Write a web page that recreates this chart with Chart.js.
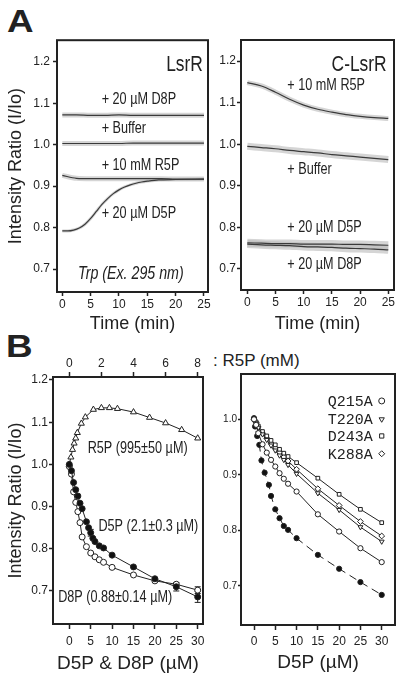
<!DOCTYPE html>
<html>
<head>
<meta charset="utf-8">
<script src="https://cdn.jsdelivr.net/npm/chart.js@4.4.1/dist/chart.umd.min.js"></script>
<style>
body{margin:0;background:#fff;width:403px;height:678px;position:relative;overflow:hidden;
  font-family:"Liberation Sans",Arial,sans-serif;color:#222}
canvas{position:absolute}
.panel{position:absolute;font-family:"Liberation Sans",Arial,sans-serif;font-weight:bold;font-size:32px;line-height:1;transform:scaleX(1.15);transform-origin:left top}
</style>
</head>
<body>
<div class="panel" style="left:7px;top:5px">A</div>
<div class="panel" style="left:6px;top:330px">B</div>
<div style="position:absolute;left:213px;top:352px;font-size:17px;line-height:1">: R5P (mM)</div>
<canvas id="aL" width="216" height="308" style="left:0;top:30px"></canvas>
<canvas id="aR" width="187" height="308" style="left:216px;top:30px"></canvas>
<canvas id="bL" width="212" height="338" style="left:0;top:340px"></canvas>
<canvas id="bR" width="191" height="338" style="left:212px;top:340px"></canvas>
<script>
// ---- panel A : fluorescence time courses (I/Io vs min)
const timeA = [0, 2.5, 5, 7.5, 10, 12.5, 15, 17.5, 20, 22.5, 25];
const timeD5P = [0, 1, 2, 3, 4, 5, 6, 7, 8, 9, 10, 11, 12, 13, 14, 15, 17, 20, 25];
const lsrrD8P = [1.072, 1.072, 1.071, 1.071, 1.072, 1.071, 1.071, 1.071, 1.071, 1.071, 1.071];
const lsrrBuffer = [1.003, 1.003, 1.003, 1.003, 1.003, 1.004, 1.004, 1.004, 1.004, 1.004, 1.004];
const lsrrR5P = [0.926, 0.919, 0.918, 0.918, 0.918, 0.918, 0.918, 0.918, 0.917, 0.917, 0.917];
const lsrrD5P = [0.792, 0.792, 0.794, 0.799, 0.808, 0.822, 0.839, 0.856, 0.870, 0.882, 0.891, 0.898, 0.903, 0.907, 0.910, 0.912, 0.915, 0.916, 0.917];
const clsrrR5P = [1.148, 1.140, 1.125, 1.108, 1.094, 1.084, 1.077, 1.071, 1.067, 1.064, 1.062];
const clsrrBuffer = [0.995, 0.992, 0.989, 0.985, 0.982, 0.979, 0.975, 0.972, 0.969, 0.966, 0.963];
const clsrrD5P = [0.763, 0.762, 0.761, 0.761, 0.760, 0.760, 0.760, 0.759, 0.759, 0.758, 0.757];
const clsrrD8P = [0.760, 0.758, 0.757, 0.756, 0.754, 0.753, 0.752, 0.750, 0.749, 0.748, 0.746];
const timeTicks = [0, 5, 10, 15, 20, 25];
const ratioTicksA = [0.7, 0.8, 0.9, 1.0, 1.1, 1.2];

// ---- panel B left : titrations
const r5pConc = [0, 0.1, 0.2, 0.3, 0.4, 0.5, 0.75, 1, 1.5, 2, 2.5, 3, 4, 5, 6, 7, 8]; // mM
const r5pRatio = [1.0, 1.017, 1.035, 1.05, 1.062, 1.075, 1.097, 1.112, 1.13, 1.134, 1.134, 1.132, 1.124, 1.111, 1.098, 1.082, 1.062];
const d5pConc = [0, 0.5, 1, 1.5, 2, 2.5, 3, 4, 4.5, 5, 5.5, 6, 7, 8, 10, 15, 20, 25, 30]; // uM
const d5pRatio = [1.0, 0.985, 0.957, 0.94, 0.925, 0.908, 0.895, 0.864, 0.85, 0.838, 0.825, 0.817, 0.807, 0.802, 0.785, 0.757, 0.729, 0.71, 0.686];
const d5pErr = [0, 0, 0, 0, 0, 0, 0, 0, 0, 0.008, 0, 0, 0, 0, 0, 0, 0, 0.01, 0.013];
const d8pConc = [0, 0.5, 1, 1.5, 2, 2.5, 3, 4, 5, 6, 7, 8, 10, 15, 20, 25, 30];
const d8pRatio = [0.995, 0.977, 0.935, 0.91, 0.888, 0.862, 0.828, 0.805, 0.79, 0.781, 0.774, 0.768, 0.756, 0.738, 0.724, 0.716, 0.702];
const d8pErr = [0, 0, 0, 0, 0, 0, 0, 0, 0, 0, 0, 0, 0, 0, 0, 0, 0.008];
const concTicks = [0, 5, 10, 15, 20, 25, 30];
const r5pTicks = [0, 2, 4, 6, 8];
const ratioTicksB = [0.7, 0.8, 0.9, 1.0, 1.1, 1.2];

// ---- panel B right : mutants titrated with D5P
const mutants = ['Q215A', 'T220A', 'D243A', 'K288A'];
const mutConc = [0, 0.5, 1, 2, 3, 4, 5, 6, 7, 8, 10, 15, 20, 25, 30];
const q215a = [1.0, 0.99, 0.975, 0.955, 0.94, 0.927, 0.915, 0.903, 0.893, 0.884, 0.870, 0.829, 0.798, 0.768, 0.743];
const t220a = [1.0, 0.993, 0.985, 0.973, 0.963, 0.953, 0.944, 0.935, 0.927, 0.918, 0.902, 0.867, 0.837, 0.806, 0.78];
const d243a = [1.0, 0.995, 0.988, 0.978, 0.97, 0.962, 0.954, 0.946, 0.939, 0.933, 0.922, 0.894, 0.865, 0.838, 0.814];
const k288a = [1.0, 0.994, 0.986, 0.975, 0.966, 0.957, 0.948, 0.94, 0.932, 0.925, 0.91, 0.875, 0.845, 0.816, 0.79];
const wtConc = [0, 0.25, 0.75, 1.25, 1.75, 2.5, 3.5, 4, 5, 6, 7, 8, 10, 15, 20, 25, 30];
const wtRatio = [1.002, 0.987, 0.97, 0.954, 0.926, 0.904, 0.882, 0.862, 0.838, 0.822, 0.808, 0.801, 0.786, 0.756, 0.731, 0.707, 0.684];
const ratioTicksC = [0.7, 0.8, 0.9, 1.0];

const FONT = '"Liberation Sans", Arial, sans-serif';
Chart.defaults.font.family = FONT;
Chart.defaults.color = '#222';

function pts(xs, ys){ return xs.map((x, i) => ({x: x, y: ys[i]})); }

// fitted line on top of a grey band standing in for the raw trace
function trace(xs, ys, band){
  return [
    {data: pts(xs, ys), borderColor: '#3a3a3a', borderWidth: 1.2, pointRadius: 0, cubicInterpolationMode: 'monotone', order: 1},
    {data: pts(xs, ys), borderColor: 'rgba(185,185,185,0.6)', borderWidth: band, pointRadius: 0, cubicInterpolationMode: 'monotone', order: 2}
  ];
}

function axis(o){
  const horiz = o.position === 'bottom' || o.position === 'top';
  return {
    type: 'linear', position: o.position, min: o.min, max: o.max,
    afterBuildTicks: s => { s.ticks = o.ticks.map(v => ({value: v})); },
    afterFit: s => { if (horiz) s.height = o.size; else s.width = o.size; },
    border: {display: false},
    grid: {drawOnChartArea: false, tickLength: o.tl, tickColor: '#222', tickWidth: 1.5},
    ticks: {padding: o.pad, font: {size: o.font}, color: '#222', autoSkip: false, maxRotation: 0,
            callback: horiz ? (v => v) : (v => v.toFixed(1))},
    title: o.title ? {display: true, text: o.title, color: '#222', font: {size: o.titleSize}, padding: o.titlePad} : {display: false}
  };
}

const frame = {
  id: 'frame',
  afterDraw(c){
    const a = c.chartArea, ctx = c.ctx;
    ctx.save();
    ctx.strokeStyle = '#222';
    ctx.lineWidth = 2;
    ctx.strokeRect(a.left, a.top, a.right - a.left, a.bottom - a.top);
    ctx.restore();
  }
};

// in-plot labels, squeezed a little to mimic the narrow typeface of the original
const notes = {
  id: 'notes',
  afterDatasetsDraw(c, args, opts){
    const ctx = c.ctx, xs = c.scales.x, ys = c.scales.y;
    (opts.items || []).forEach(n => {
      ctx.save();
      ctx.fillStyle = '#222';
      ctx.textBaseline = 'middle';
      ctx.font = (n.style || '') + ' ' + (n.size || 16) + 'px ' + FONT;
      ctx.textAlign = n.align || 'left';
      ctx.translate(xs.getPixelForValue(n.x), ys.getPixelForValue(n.y));
      ctx.scale(0.79, 1);
      ctx.fillText(n.text, 0, 0);
      ctx.restore();
    });
  }
};

const errBars = {
  id: 'errBars',
  beforeDatasetsDraw(c){
    const ctx = c.ctx;
    ctx.save();
    ctx.strokeStyle = '#222';
    ctx.lineWidth = 1;
    c.data.datasets.forEach((ds, i) => {
      if (!ds.errors) return;
      const meta = c.getDatasetMeta(i), ys = c.scales[meta.yAxisID];
      meta.data.forEach((p, j) => {
        const e = ds.errors[j];
        if (!e) return;
        const v = ds.data[j].y;
        const y1 = ys.getPixelForValue(v - e), y2 = ys.getPixelForValue(v + e);
        ctx.beginPath();
        ctx.moveTo(p.x, y1); ctx.lineTo(p.x, y2);
        ctx.moveTo(p.x - 3, y1); ctx.lineTo(p.x + 3, y1);
        ctx.moveTo(p.x - 3, y2); ctx.lineTo(p.x + 3, y2);
        ctx.stroke();
      });
    });
    ctx.restore();
  }
};

const keyLegend = {
  id: 'keyLegend',
  afterDatasetsDraw(c, args, opts){
    const ctx = c.ctx, xs = c.scales.x, ys = c.scales.y;
    const sx = xs.getPixelForValue(opts.x);
    ctx.save();
    ctx.textAlign = 'right';
    ctx.textBaseline = 'middle';
    ctx.font = opts.size + 'px "Liberation Mono", "DejaVu Sans Mono", monospace';
    ctx.lineWidth = 1;
    let row = 0;
    c.data.datasets.forEach(ds => {
      if (mutants.indexOf(ds.label) < 0) return;
      const y = ys.getPixelForValue(opts.rows[row++]);
      ctx.fillStyle = '#222';
      ctx.fillText(ds.label, sx - 9, y + 1);
      ctx.fillStyle = '#fff';
      ctx.strokeStyle = '#222';
      Chart.helpers.drawPoint(ctx, {pointStyle: ds.pointStyle, rotation: ds.pointRotation || 0, radius: 3, borderWidth: 1}, sx, y);
    });
    ctx.restore();
  }
};

const base = {
  responsive: false,
  animation: false,
  events: []
};

// ---- A left: LsrR
new Chart(document.getElementById('aL'), {
  type: 'line',
  data: {datasets: [].concat(
    trace(timeA, lsrrD8P, 5), trace(timeA, lsrrBuffer, 5),
    trace(timeA, lsrrR5P, 5), trace(timeD5P, lsrrD5P, 3))},
  options: Object.assign({}, base, {
    layout: {padding: {top: 10, right: 8, left: 0, bottom: 0}},
    plugins: {
      legend: {display: false}, tooltip: {enabled: false},
      notes: {items: [
        {text: 'LsrR', x: 24.8, y: 1.192, size: 22, align: 'right'},
        {text: '+ 20 µM D8P', x: 6.95, y: 1.108},
        {text: '+ Buffer', x: 6.95, y: 1.040},
        {text: '+ 10 mM R5P', x: 6.95, y: 0.949},
        {text: '+ 20 µM D5P', x: 6.95, y: 0.833},
        {text: 'Trp (Ex. 295 nm)', x: 12.1, y: 0.688, size: 18, align: 'center', style: 'italic'}
      ]}
    },
    scales: {
      x: axis({position: 'bottom', min: -0.935, max: 25.71, ticks: timeTicks, size: 46, tl: 4, pad: 1, font: 12,
               title: 'Time (min)', titleSize: 18, titlePad: {top: 0, bottom: 3}}),
      y: axis({position: 'left', min: 0.6445, max: 1.2523, ticks: ratioTicksA, size: 57, tl: 4, pad: 3, font: 12,
               title: 'Intensity Ratio (I/Io)', titleSize: 18, titlePad: {top: 5, bottom: 0}})
    }
  }),
  plugins: [frame, notes]
});

// ---- A right: C-LsrR
new Chart(document.getElementById('aR'), {
  type: 'line',
  data: {datasets: [].concat(
    trace(timeA, clsrrR5P, 5), trace(timeA, clsrrBuffer, 7),
    trace(timeA, clsrrD5P, 8), trace(timeA, clsrrD8P, 8))},
  options: Object.assign({}, base, {
    layout: {padding: {top: 10, right: 9, left: 0, bottom: 0}},
    plugins: {
      legend: {display: false}, tooltip: {enabled: false},
      notes: {items: [
        {text: 'C-LsrR', x: 24.7, y: 1.190, size: 22, align: 'right'},
        {text: '+ 10 mM R5P', x: 7.1, y: 1.140},
        {text: '+ Buffer', x: 7.1, y: 0.938},
        {text: '+ 20 µM D5P', x: 7.1, y: 0.799},
        {text: '+ 20 µM D8P', x: 7.1, y: 0.710}
      ]}
    },
    scales: {
      x: axis({position: 'bottom', min: -1.117, max: 26.01, ticks: timeTicks, size: 48, tl: 4, pad: 1, font: 12,
               title: 'Time (min)', titleSize: 18, titlePad: {top: 0, bottom: 3}}),
      y: axis({position: 'left', min: 0.6495, max: 1.2505, ticks: ratioTicksA, size: 25, tl: 4, pad: 1, font: 12})
    }
  }),
  plugins: [frame, notes]
});

// ---- B left: titrations of LsrR
const mk = {borderColor: '#222', borderWidth: 1, pointBorderColor: '#222', pointBorderWidth: 1, tension: 0};
new Chart(document.getElementById('bL'), {
  type: 'line',
  data: {datasets: [
    Object.assign({label: 'D5P', data: pts(d5pConc, d5pRatio), errors: d5pErr, pointRadius: 3, pointStyle: 'circle', pointBackgroundColor: '#111'}, mk),
    Object.assign({label: 'D8P', data: pts(d8pConc, d8pRatio), errors: d8pErr, pointRadius: 3, pointStyle: 'circle', pointBackgroundColor: '#fff'}, mk),
    Object.assign({label: 'R5P', data: pts(r5pConc, r5pRatio), xAxisID: 'x2', pointRadius: 3.5, pointStyle: 'triangle', pointBackgroundColor: '#fff'}, mk)
  ]},
  options: Object.assign({}, base, {
    layout: {padding: {top: 0, right: 9, left: 0, bottom: 0}},
    plugins: {
      legend: {display: false}, tooltip: {enabled: false},
      notes: {items: [
        {text: 'R5P (995±50 µM)', x: 4.3, y: 1.037},
        {text: 'D5P (2.1±0.3 µM)', x: 6.8, y: 0.852},
        {text: 'D8P (0.88±0.14 µM)', x: -2.6, y: 0.685}
      ]}
    },
    scales: {
      x: axis({position: 'bottom', min: -3.81, max: 31.24, ticks: concTicks, size: 54, tl: 5, pad: 5, font: 12,
               title: 'D5P & D8P (µM)', titleSize: 19, titlePad: {top: 0, bottom: 3}}),
      x2: axis({position: 'top', min: -3.81 * 8 / 30, max: 31.24 * 8 / 30, ticks: r5pTicks, size: 37, tl: 5, pad: 1, font: 12}),
      y: axis({position: 'left', min: 0.6218, max: 1.2071, ticks: ratioTicksB, size: 53, tl: 4, pad: 1, font: 12,
               title: 'Intensity Ratio (I/Io)', titleSize: 18, titlePad: {top: 5, bottom: 0}})
    }
  }),
  plugins: [frame, notes, errBars]
});

// ---- B right: mutants
new Chart(document.getElementById('bR'), {
  type: 'line',
  data: {datasets: [
    Object.assign({label: 'Q215A', data: pts(mutConc, q215a), pointRadius: 2.6, pointStyle: 'circle', pointBackgroundColor: '#fff'}, mk),
    Object.assign({label: 'T220A', data: pts(mutConc, t220a), pointRadius: 2.8, pointStyle: 'triangle', pointRotation: 180, pointBackgroundColor: '#fff'}, mk),
    Object.assign({label: 'D243A', data: pts(mutConc, d243a), pointRadius: 2.6, pointStyle: 'rect', pointBackgroundColor: '#fff'}, mk),
    Object.assign({label: 'K288A', data: pts(mutConc, k288a), pointRadius: 2.9, pointStyle: 'rectRot', pointBackgroundColor: '#fff'}, mk),
    Object.assign({label: 'WT', data: pts(wtConc, wtRatio), pointRadius: 2.6, pointStyle: 'circle', pointBackgroundColor: '#111', borderDash: [8, 5]}, mk)
  ]},
  options: Object.assign({}, base, {
    layout: {padding: {top: 34, right: 8, left: 0, bottom: 0}},
    plugins: {
      legend: {display: false}, tooltip: {enabled: false},
      keyLegend: {x: 30, size: 15, rows: [1.033, 1.0, 0.970, 0.938]}
    },
    scales: {
      x: axis({position: 'bottom', min: -3.054, max: 33.12, ticks: concTicks, size: 53, tl: 5, pad: 4, font: 12,
               title: 'D5P (µM)', titleSize: 19, titlePad: {top: 0, bottom: 4}}),
      y: axis({position: 'left', min: 0.6298, max: 1.0815, ticks: ratioTicksC, size: 29, tl: 3, pad: 1, font: 10})
    }
  }),
  plugins: [frame, keyLegend]
});
</script>
</body>
</html>
